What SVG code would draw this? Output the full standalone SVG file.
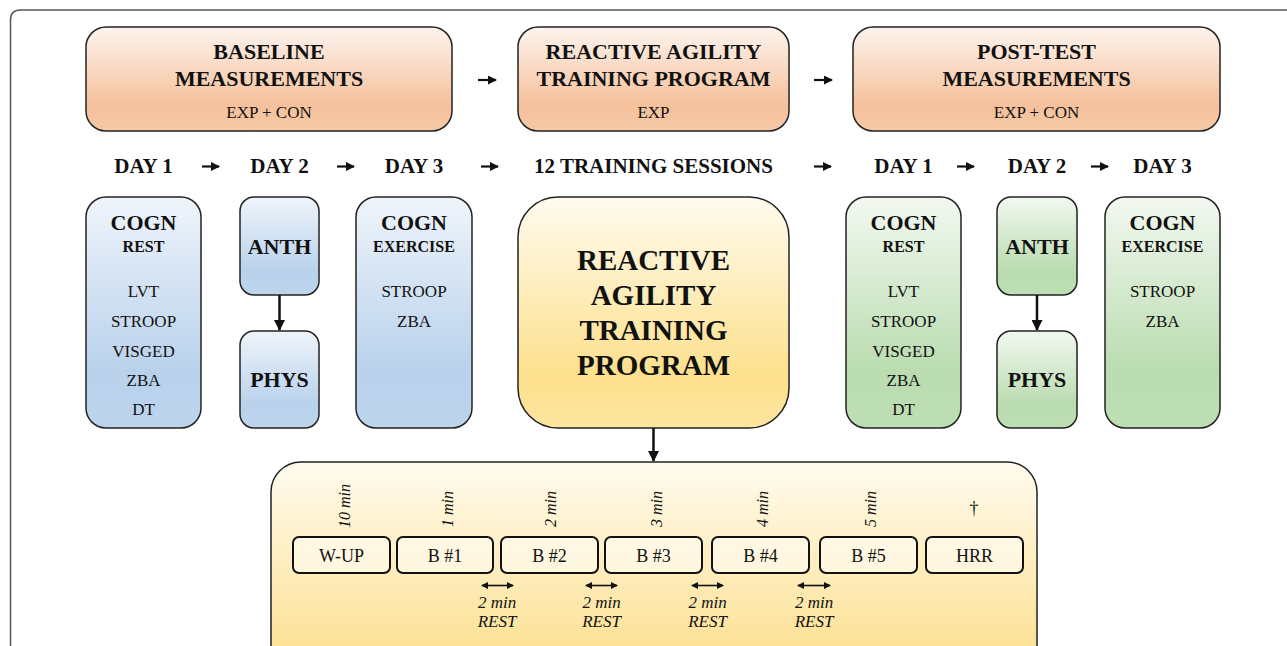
<svg xmlns="http://www.w3.org/2000/svg" width="1287" height="646" viewBox="0 0 1287 646" font-family="Liberation Serif, Times New Roman, serif">
<defs>
<linearGradient id="gOr" x1="0" y1="0" x2="0" y2="1">
<stop offset="0" stop-color="#fdf4ee"/><stop offset="0.75" stop-color="#f5c19c"/><stop offset="1" stop-color="#f6c8a6"/>
</linearGradient>
<linearGradient id="gBl" x1="0" y1="0" x2="0" y2="1">
<stop offset="0" stop-color="#eff4fa"/><stop offset="0.75" stop-color="#b9d2ec"/><stop offset="1" stop-color="#bcd4ec"/>
</linearGradient>
<linearGradient id="gGr" x1="0" y1="0" x2="0" y2="1">
<stop offset="0" stop-color="#f2f8f0"/><stop offset="0.75" stop-color="#badcb0"/><stop offset="1" stop-color="#bedeb4"/>
</linearGradient>
<linearGradient id="gYe" x1="0" y1="0" x2="0" y2="1">
<stop offset="0" stop-color="#fffbef"/><stop offset="0.78" stop-color="#fde08c"/><stop offset="1" stop-color="#fde6a0"/>
</linearGradient>
<linearGradient id="gYe2" x1="0" y1="0" x2="0" y2="1">
<stop offset="0" stop-color="#fffbef"/><stop offset="1" stop-color="#fcdd86"/>
</linearGradient>
<marker id="ah" markerUnits="userSpaceOnUse" markerWidth="9" markerHeight="9" refX="8" refY="4.5" orient="auto">
<path d="M0,0 L9,4.5 L0,9 z" fill="#111"/>
</marker>
<marker id="ahL" markerUnits="userSpaceOnUse" markerWidth="11" markerHeight="11" refX="10" refY="5.5" orient="auto">
<path d="M0,0 L11,5.5 L0,11 z" fill="#111"/>
</marker>
<marker id="ahS" markerUnits="userSpaceOnUse" markerWidth="7" markerHeight="7" refX="6" refY="3.5" orient="auto-start-reverse">
<path d="M0,0 L7,3.5 L0,7 z" fill="#111"/>
</marker>
</defs>
<style>
text{font-family:"Liberation Serif","Times New Roman",serif;fill:#111;text-anchor:middle}
.h{font-size:22px;font-weight:bold}
.s{font-size:17px}
.m{font-size:18px}
.d{font-size:21px;font-weight:bold}
.sub{font-size:16px;font-weight:bold}
.big{font-size:29px;font-weight:bold}
.it{font-size:17px;font-style:italic}
.rot{font-size:16px;font-style:italic;text-anchor:start}
.box{stroke:#222;stroke-width:1.5}
.sm{fill:#fff;fill-opacity:0.5;stroke:#111;stroke-width:2}
.ar{stroke:#111;stroke-width:2.2;fill:none}
</style>
<path d="M10.5 646 V20 Q10.5 10 20.5 10 H1287" fill="none" stroke="#555" stroke-width="1.5"/>

<g id="baseline">
<rect class="box" x="86" y="27" width="366" height="104" rx="20" fill="url(#gOr)"/>
<text class="h" x="269" y="59">BASELINE</text>
<text class="h" x="269" y="86">MEASUREMENTS</text>
<text class="s" x="269" y="118">EXP + CON</text>
</g>
<g id="reactive-top">
<rect class="box" x="518" y="27" width="271" height="104" rx="20" fill="url(#gOr)"/>
<text class="h" x="653.5" y="59">REACTIVE AGILITY</text>
<text class="h" x="653.5" y="86">TRAINING PROGRAM</text>
<text class="s" x="653.5" y="118">EXP</text>
</g>
<g id="posttest">
<rect class="box" x="853" y="27" width="367" height="104" rx="20" fill="url(#gOr)"/>
<text class="h" x="1036.5" y="59">POST-TEST</text>
<text class="h" x="1036.5" y="86">MEASUREMENTS</text>
<text class="s" x="1036.5" y="118">EXP + CON</text>
</g>

<g id="days">
<text class="d" x="143.5" y="173">DAY 1</text>
<text class="d" x="279.5" y="173">DAY 2</text>
<text class="d" x="414" y="173">DAY 3</text>
<text class="d" x="653.5" y="173">12 TRAINING SESSIONS</text>
<text class="d" x="903.5" y="173">DAY 1</text>
<text class="d" x="1037" y="173">DAY 2</text>
<text class="d" x="1162.5" y="173">DAY 3</text>
</g>

<g id="pre-cogn-rest">
<rect class="box" x="86" y="197" width="115" height="231" rx="20" fill="url(#gBl)"/>
<text class="h" x="143.5" y="230">COGN</text>
<text class="sub" x="143.5" y="252">REST</text>
<text class="s" x="143.5" y="297">LVT</text>
<text class="s" x="143.5" y="327">STROOP</text>
<text class="s" x="143.5" y="357">VISGED</text>
<text class="s" x="143.5" y="386">ZBA</text>
<text class="s" x="143.5" y="415">DT</text>
</g>
<g id="pre-anth">
<rect class="box" x="240" y="197" width="79" height="98" rx="14" fill="url(#gBl)"/>
<text class="h" x="279.5" y="254">ANTH</text>
</g>
<g id="pre-phys">
<rect class="box" x="240" y="331" width="79" height="97" rx="14" fill="url(#gBl)"/>
<text class="h" x="279.5" y="387">PHYS</text>
</g>
<g id="pre-cogn-ex">
<rect class="box" x="356" y="197" width="116" height="231" rx="20" fill="url(#gBl)"/>
<text class="h" x="414" y="230">COGN</text>
<text class="sub" x="414" y="252">EXERCISE</text>
<text class="s" x="414" y="297">STROOP</text>
<text class="s" x="414" y="327">ZBA</text>
</g>

<g id="program">
<rect class="box" x="518" y="197" width="271" height="231" rx="40" fill="url(#gYe)"/>
<text class="big" x="653.5" y="270">REACTIVE</text>
<text class="big" x="653.5" y="305">AGILITY</text>
<text class="big" x="653.5" y="340">TRAINING</text>
<text class="big" x="653.5" y="375">PROGRAM</text>
</g>

<g id="post-cogn-rest">
<rect class="box" x="846" y="197" width="115" height="231" rx="20" fill="url(#gGr)"/>
<text class="h" x="903.5" y="230">COGN</text>
<text class="sub" x="903.5" y="252">REST</text>
<text class="s" x="903.5" y="297">LVT</text>
<text class="s" x="903.5" y="327">STROOP</text>
<text class="s" x="903.5" y="357">VISGED</text>
<text class="s" x="903.5" y="386">ZBA</text>
<text class="s" x="903.5" y="415">DT</text>
</g>
<g id="post-anth">
<rect class="box" x="997" y="197" width="80" height="98" rx="14" fill="url(#gGr)"/>
<text class="h" x="1037" y="254">ANTH</text>
</g>
<g id="post-phys">
<rect class="box" x="997" y="331" width="80" height="97" rx="14" fill="url(#gGr)"/>
<text class="h" x="1037" y="387">PHYS</text>
</g>
<g id="post-cogn-ex">
<rect class="box" x="1105" y="197" width="115" height="231" rx="20" fill="url(#gGr)"/>
<text class="h" x="1162.5" y="230">COGN</text>
<text class="sub" x="1162.5" y="252">EXERCISE</text>
<text class="s" x="1162.5" y="297">STROOP</text>
<text class="s" x="1162.5" y="327">ZBA</text>
</g>

<g id="session">
<rect class="box" x="271" y="462" width="766" height="220" rx="30" fill="url(#gYe2)"/>
<g id="wup"><rect class="sm" x="293" y="537" width="97" height="36" rx="6"/><text class="m" x="341.5" y="562">W-UP</text></g>
<g id="b1"><rect class="sm" x="397" y="537" width="96" height="36" rx="6"/><text class="m" x="445" y="562">B #1</text></g>
<g id="b2"><rect class="sm" x="501" y="537" width="97" height="36" rx="6"/><text class="m" x="549.5" y="562">B #2</text></g>
<g id="b3"><rect class="sm" x="605" y="537" width="97" height="36" rx="6"/><text class="m" x="653.5" y="562">B #3</text></g>
<g id="b4"><rect class="sm" x="712" y="537" width="97" height="36" rx="6"/><text class="m" x="760.5" y="562">B #4</text></g>
<g id="b5"><rect class="sm" x="820" y="537" width="97" height="36" rx="6"/><text class="m" x="868.5" y="562">B #5</text></g>
<g id="hrr"><rect class="sm" x="926" y="537" width="97" height="36" rx="6"/><text class="m" x="974.5" y="562">HRR</text></g>
<text class="rot" transform="translate(350 528) rotate(-90)">10 min</text>
<text class="rot" transform="translate(453 527) rotate(-90)">1 min</text>
<text class="rot" transform="translate(556 527) rotate(-90)">2 min</text>
<text class="rot" transform="translate(662 527) rotate(-90)">3 min</text>
<text class="rot" transform="translate(768 527) rotate(-90)">4 min</text>
<text class="rot" transform="translate(876 527) rotate(-90)">5 min</text>
<text class="m" x="974" y="514" style="fill:#111">&#8224;</text>
<text class="it" x="497" y="608">2 min</text><text class="it" x="497" y="627">REST</text>
<text class="it" x="601.5" y="608">2 min</text><text class="it" x="601.5" y="627">REST</text>
<text class="it" x="707.5" y="608">2 min</text><text class="it" x="707.5" y="627">REST</text>
<text class="it" x="814" y="608">2 min</text><text class="it" x="814" y="627">REST</text>
</g>

<g id="connectors">
<line class="ar" x1="478" y1="80" x2="496" y2="80" marker-end="url(#ah)"/>
<line class="ar" x1="814" y1="80" x2="832" y2="80" marker-end="url(#ah)"/>
<line class="ar" x1="202" y1="166.5" x2="219" y2="166.5" marker-end="url(#ah)"/>
<line class="ar" x1="337" y1="166.5" x2="354" y2="166.5" marker-end="url(#ah)"/>
<line class="ar" x1="481" y1="166.5" x2="498" y2="166.5" marker-end="url(#ah)"/>
<line class="ar" x1="814" y1="166.5" x2="831" y2="166.5" marker-end="url(#ah)"/>
<line class="ar" x1="957" y1="166.5" x2="974" y2="166.5" marker-end="url(#ah)"/>
<line class="ar" x1="1091" y1="166.5" x2="1108" y2="166.5" marker-end="url(#ah)"/>
<line class="ar" style="stroke-width:2.5" x1="279.5" y1="295" x2="279.5" y2="330" marker-end="url(#ahL)"/>
<line class="ar" style="stroke-width:2.5" x1="1037" y1="295" x2="1037" y2="330" marker-end="url(#ahL)"/>
<line class="ar" style="stroke-width:2.5" x1="653.5" y1="428" x2="653.5" y2="461" marker-end="url(#ahL)"/>
<line class="ar" style="stroke-width:1.6" x1="482" y1="585.5" x2="513" y2="585.5" marker-start="url(#ahS)" marker-end="url(#ahS)"/>
<line class="ar" style="stroke-width:1.6" x1="586" y1="585.5" x2="617" y2="585.5" marker-start="url(#ahS)" marker-end="url(#ahS)"/>
<line class="ar" style="stroke-width:1.6" x1="692" y1="585.5" x2="723" y2="585.5" marker-start="url(#ahS)" marker-end="url(#ahS)"/>
<line class="ar" style="stroke-width:1.6" x1="798" y1="585.5" x2="830" y2="585.5" marker-start="url(#ahS)" marker-end="url(#ahS)"/>
</g>
</svg>
